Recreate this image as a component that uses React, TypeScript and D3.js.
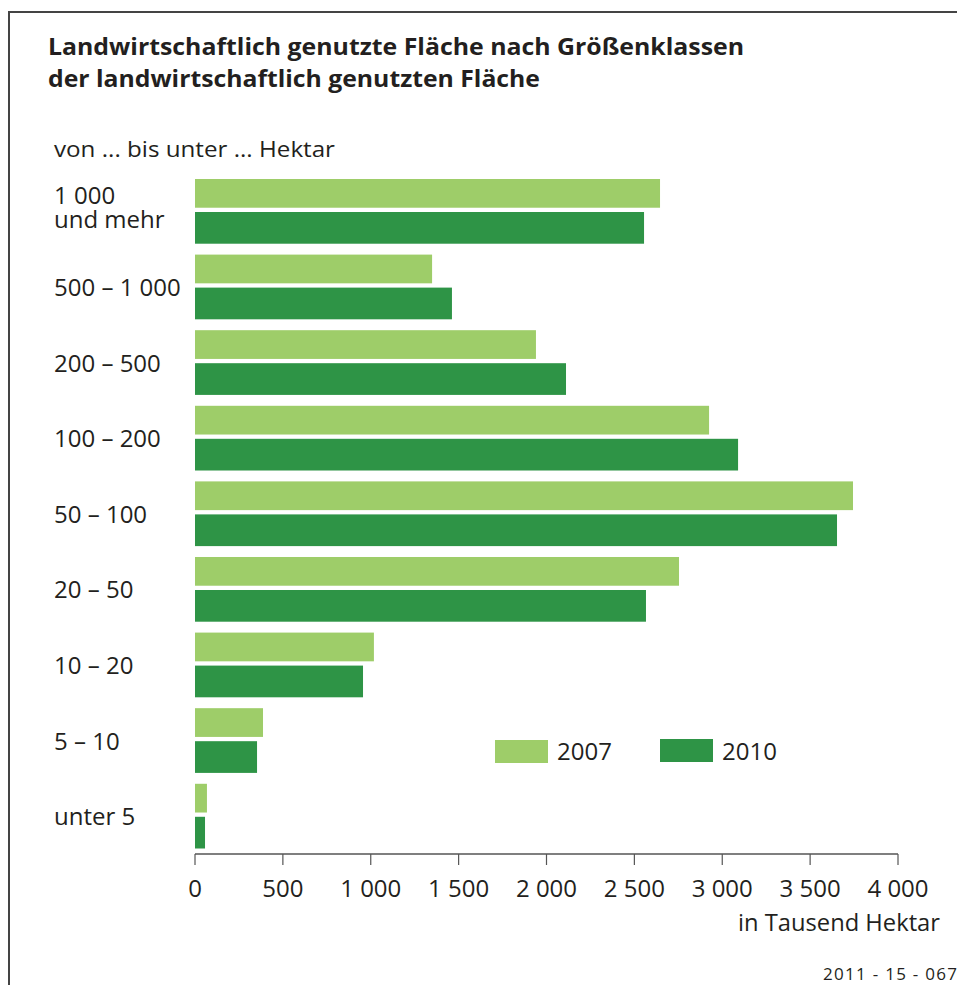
import React from "react";
import * as d3 from "d3";

const categories = ["1 000|und mehr", "500 – 1 000", "200 – 500", "100 – 200", "50 – 100", "20 – 50", "10 – 20", "5 – 10", "unter 5"];
const values2007 = [2646, 1349, 1940, 2925, 3744, 2754, 1018, 387, 68];
const values2010 = [2555, 1462, 2111, 3090, 3653, 2566, 956, 353, 57];
const xTicks = [0, 500, 1000, 1500, 2000, 2500, 3000, 3500, 4000];
const seriesNames = ["2007", "2010"];
const titleLines = ["Landwirtschaftlich genutzte Fläche nach Größenklassen", "der landwirtschaftlich genutzten Fläche"];

const C07 = "#9ecd69";
const C10 = "#2e9446";
const TXT = "#231f20";
const FONT = "'Open Sans', sans-serif";

const fmt = (v: number) => {
  const s = String(v);
  return s.length > 3 ? s.slice(0, s.length - 3) + " " + s.slice(-3) : s;
};

export default function App() {
  const W = 957, H = 985;
  const x = d3.scaleLinear().domain([0, 4000]).range([195, 898]);
  const y = d3.scaleBand<string>().domain(categories).range([179, 848.5]).paddingInner(0.144).paddingOuter(0);
  const bw = y.bandwidth();
  const h07 = bw * 0.444;
  const y10 = bw * 0.51;
  const axisY = 854;

  return (
    <svg width={W} height={H} style={{ position: "absolute", left: 0, top: 0, background: "#fff" }} fontFamily={FONT}>
      <rect x={0} y={0} width={W} height={H} fill="#fff" />
      {/* frame */}
      <line x1={9} y1={12} x2={W} y2={12} stroke="#444" strokeWidth={2} />
      <line x1={9} y1={11} x2={9} y2={H} stroke="#444" strokeWidth={2} />
      {/* title */}
      {titleLines.map((t, i) => (
        <text key={i} x={48} y={55 + i * 32} fontSize={24} fontWeight={700} fill={TXT}
          textLength={i === 0 ? 696 : 492} lengthAdjust="spacingAndGlyphs">{t}</text>
      ))}
      <text x={54} y={157} fontSize={22} fill={TXT} textLength={281} lengthAdjust="spacingAndGlyphs">von ... bis unter ... Hektar</text>
      {/* bars */}
      {categories.map((c, i) => {
        const y0 = y(c) as number;
        return (
          <g key={c}>
            <rect x={x(0)} y={y0} width={x(values2007[i]) - x(0)} height={h07} fill={C07} />
            <rect x={x(0)} y={y0 + y10} width={x(values2010[i]) - x(0)} height={bw - y10} fill={C10} />
          </g>
        );
      })}
      {/* category labels */}
      {categories.map((c) => {
        const cy = (y(c) as number) + bw / 2;
        const parts = c.split("|");
        return parts.length === 1 ? (
          <text key={c} x={54} y={cy + 9} fontSize={24} fill={TXT}>{c}</text>
        ) : (
          <g key={c}>
            <text x={54} y={cy - 7} fontSize={24} fill={TXT}>{parts[0]}</text>
            <text x={54} y={cy + 17} fontSize={24} fill={TXT}>{parts[1]}</text>
          </g>
        );
      })}
      {/* axis */}
      <line x1={x(0)} y1={axisY} x2={x(4000)} y2={axisY} stroke="#555" strokeWidth={1.4} />
      {xTicks.map((t) => (
        <g key={t}>
          <line x1={x(t)} y1={axisY} x2={x(t)} y2={axisY + 11} stroke="#555" strokeWidth={1.2} />
          <text x={x(t)} y={897} fontSize={24} textAnchor="middle" fill={TXT}>{fmt(t)}</text>
        </g>
      ))}
      <text x={940} y={931} fontSize={23} textAnchor="end" fill={TXT} textLength={202} lengthAdjust="spacingAndGlyphs">in Tausend Hektar</text>
      {/* legend */}
      <rect x={495} y={740} width={53} height={23} fill={C07} />
      <text x={557} y={760} fontSize={24} fill={TXT}>{seriesNames[0]}</text>
      <rect x={660} y={739} width={53} height={23} fill={C10} />
      <text x={722} y={760} fontSize={24} fill={TXT}>{seriesNames[1]}</text>
      <text x={957} y={980} fontSize={17} textAnchor="end" fill={TXT} textLength={134} lengthAdjust="spacing">2011 - 15 - 067</text>
    </svg>
  );
}
